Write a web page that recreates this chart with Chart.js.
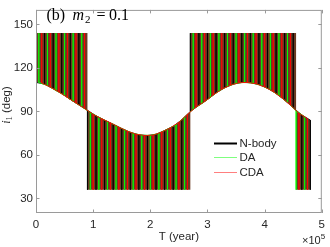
<!DOCTYPE html>
<html>
<head>
<meta charset="utf-8">
<script src="https://cdn.jsdelivr.net/npm/chart.js@4.4.1/dist/chart.umd.min.js"></script>
<style>
  html, body { margin: 0; padding: 0; background: #fff; }
  #wrap { width: 330px; height: 247px; }
</style>
</head>
<body>
<div id="wrap"><canvas id="chart"></canvas></div>
<script>
// time samples (kyr) and the envelope of i1 (deg)
const tKyr = [0, 5, 10, 15, 20, 25, 30, 35, 40, 45, 50, 55, 60, 65, 70, 75, 80, 85, 90, 95,
    100, 105, 110, 115, 120, 125, 130, 135, 140, 145, 150, 155, 160, 165, 170, 175, 180, 185, 190, 195,
    200, 205, 210, 215, 220, 225, 230, 235, 240, 245, 250, 255, 260, 265, 270, 275, 280, 285, 290, 295,
    300, 305, 310, 315, 320, 325, 330, 335, 340, 345, 350, 355, 360, 365, 370, 375, 380, 385, 390, 395,
    400, 405, 410, 415, 420, 425, 430, 435, 440, 445, 450, 455, 460, 465, 470, 475, 480];
const envelope = [110.0, 109.9, 109.6, 108.9, 107.9, 106.8, 105.6, 104.4, 103.4, 102.3,
    101.0, 99.6, 98.3, 97.0, 95.8, 94.5, 93.2, 92.0, 90.8, 89.3,
    88.0, 87.0, 86.0, 85.0, 84.0, 83.1, 82.2, 81.2, 80.2, 79.2,
    78.2, 77.3, 76.4, 75.6, 74.9, 74.3, 73.9, 73.6, 73.4, 73.4,
    73.5, 73.7, 74.2, 74.9, 75.8, 76.9, 77.8, 78.7, 79.7, 80.8,
    82.5, 84.3, 86.1, 88.0, 90.0, 91.6, 93.0, 94.2, 95.4, 96.8,
    98.2, 99.7, 101.3, 102.8, 104.1, 105.3, 106.3, 107.2, 108.1, 108.8,
    109.4, 109.8, 110.0, 110.1, 110.0, 109.8, 109.5, 109.1, 108.5, 107.8,
    106.9, 106.0, 104.9, 103.7, 102.4, 101.0, 99.4, 97.8, 96.2, 94.4,
    92.5, 90.5, 88.8, 87.6, 86.3, 85.0, 84.0];
// where the flips saturate: from each start time on, spikes reach this level
const flipKyr = [0, 90, 270, 455];
const flipLevel = [144, 36, 144, 36];

const seriesNames = ['N-body', 'DA', 'CDA'];
const xTicks = [0, 1, 2, 3, 4, 5];
const yTicks = [30, 60, 90, 120, 150];

const SANS = '"Liberation Sans", Arial, sans-serif';
const SERIF = '"Liberation Serif", "Times New Roman", serif';
const TEXT = '#262626';
const AXIS = '#9a9a9a';
const BAND = '#6a3a22';

function levelAt(t) {
    let lv = flipLevel[0];
    flipKyr.forEach((f, i) => { if (t >= f) lv = flipLevel[i]; });
    return lv;
}

// every third envelope sample belongs to one series: a vertical flip up to
// the saturation level and back, then along the envelope to its next sample
function spikes(phase) {
    const pts = [];
    tKyr.forEach((t, k) => {
        if (k % 3 !== phase) return;
        pts.push({ x: t * 1000, y: envelope[k] });
        pts.push({ x: t * 1000, y: levelAt(t) });
        pts.push({ x: t * 1000, y: envelope[k] });
    });
    return pts;
}

function lineSet(label, data, color, width, order) {
    return {
        label,
        data,
        borderColor: color,
        borderWidth: width,
        pointRadius: 0,
        tension: 0,
        fill: false,
        order,
    };
}

function drawText(ctx, parts, x, y) {
    parts.forEach(p => {
        ctx.font = p.font;
        ctx.fillText(p.text, p.x ?? x, y + (p.dy || 0));
        x += ctx.measureText(p.text).width;
    });
}

function textWidth(ctx, parts) {
    return parts.reduce((w, p) => { ctx.font = p.font; return w + ctx.measureText(p.text).width; }, 0);
}

// the dense flipping fills the space between the envelope and the saturation level
const band = {
    id: 'band',
    beforeDatasetsDraw(chart) {
        const { ctx, chartArea: a, scales: { x, y } } = chart;
        ctx.save();
        ctx.beginPath();
        ctx.rect(a.left, a.top, a.right - a.left, a.bottom - a.top);
        ctx.clip();
        ctx.fillStyle = BAND;
        flipKyr.forEach((start, i) => {
            const end = i + 1 < flipKyr.length ? flipKyr[i + 1] : tKyr[tKyr.length - 1];
            ctx.beginPath();
            ctx.moveTo(x.getPixelForValue(start * 1000), y.getPixelForValue(flipLevel[i]));
            tKyr.forEach((t, k) => {
                if (t >= start && t <= end) ctx.lineTo(x.getPixelForValue(t * 1000), y.getPixelForValue(envelope[k]));
            });
            ctx.lineTo(x.getPixelForValue(end * 1000), y.getPixelForValue(flipLevel[i]));
            ctx.closePath();
            ctx.fill();
        });
        ctx.restore();
    },
};

const frame = {
    id: 'frame',
    afterDraw(chart) {
        const { ctx, chartArea: a, scales } = chart;
        ctx.save();
        ctx.strokeStyle = AXIS;
        ctx.lineWidth = 1;
        ctx.strokeRect(a.left + 0.5, a.top + 0.5, a.right - a.left - 1, a.bottom - a.top - 1);
        ctx.beginPath();
        xTicks.forEach(v => {
            const x = Math.round(scales.x.getPixelForValue(v * 1e5)) + 0.5;
            ctx.moveTo(x, a.bottom); ctx.lineTo(x, a.bottom - 3.5);
            ctx.moveTo(x, a.top); ctx.lineTo(x, a.top + 3.5);
        });
        yTicks.forEach(v => {
            const y = Math.round(scales.y.getPixelForValue(v)) + 0.5;
            ctx.moveTo(a.left, y); ctx.lineTo(a.left + 3.5, y);
            ctx.moveTo(a.right, y); ctx.lineTo(a.right - 3.5, y);
        });
        ctx.stroke();

        // panel title, spaced like the LaTeX original
        ctx.fillStyle = '#000';
        ctx.textBaseline = 'alphabetic';
        ctx.textAlign = 'left';
        drawText(ctx, [
            { text: '(b)', font: `16px ${SERIF}`, x: 46.5 },
            { text: 'm', font: `italic 16px ${SERIF}`, x: 72.5 },
            { text: '2', font: `11px ${SERIF}`, dy: 3, x: 85 },
            { text: '=', font: `16px ${SERIF}`, x: 96.5 },
            { text: '0.1', font: `16px ${SERIF}`, x: 109 },
        ], 0, 19.5);

        // y label
        ctx.fillStyle = TEXT;
        ctx.save();
        ctx.translate(9.5, 105);
        ctx.rotate(-Math.PI / 2);
        const yl = [
            { text: 'i', font: `italic 12px ${SERIF}` },
            { text: '1', font: `8.5px ${SERIF}`, dy: 2.5 },
            { text: ' (deg)', font: `11.5px ${SANS}` },
        ];
        drawText(ctx, yl, -textWidth(ctx, yl) / 2, 0);
        ctx.restore();

        // x label and exponent
        ctx.font = `11.5px ${SANS}`;
        ctx.textAlign = 'center';
        ctx.fillText('T (year)', (a.left + a.right) / 2, 240);
        ctx.textAlign = 'left';
        drawText(ctx, [
            { text: '\u00d710', font: `11px ${SANS}` },
            { text: '5', font: `8px ${SANS}`, dy: -5 },
        ], 302, 244);

        // legend
        chart.data.datasets.forEach((ds, i) => {
            const y = Math.round(142.5 + i * 14.5) + 0.5;
            ctx.strokeStyle = ds.borderColor;
            ctx.lineWidth = i === 0 ? 2 : 1;
            ctx.globalAlpha = i === 0 ? 1 : 0.5;
            ctx.beginPath();
            ctx.moveTo(214, y);
            ctx.lineTo(237, y);
            ctx.stroke();
            ctx.globalAlpha = 1;
            ctx.fillStyle = TEXT;
            ctx.font = `11.5px ${SANS}`;
            ctx.textBaseline = 'middle';
            ctx.fillText(ds.label, 239.5, y);
        });
        ctx.restore();
    },
};

new Chart(document.getElementById('chart'), {
    type: 'line',
    data: {
        datasets: [
            lineSet(seriesNames[0], spikes(0), '#000000', 0.9, 3),
            lineSet(seriesNames[1], spikes(1), '#00ff00', 0.9, 2),
            lineSet(seriesNames[2], spikes(2), '#ff0000', 0.9, 1),
        ],
    },
    options: {
        responsive: true,
        maintainAspectRatio: false,
        animation: false,
        layout: { padding: { top: 1, right: 3, left: 0, bottom: 0 } },
        plugins: { legend: { display: false }, tooltip: { enabled: false } },
        scales: {
            x: {
                type: 'linear',
                min: 0,
                max: 500000,
                grid: { display: false, drawTicks: false },
                border: { display: false },
                afterBuildTicks(scale) { scale.ticks = xTicks.map(v => ({ value: v * 1e5 })); },
                afterFit(scale) { scale.height = 34; },
                ticks: {
                    padding: 5,
                    maxRotation: 0,
                    color: TEXT,
                    font: { family: SANS, size: 11.5 },
                    callback: v => String(v / 1e5),
                },
            },
            y: {
                min: 20,
                max: 160,
                grid: { display: false, drawTicks: false },
                border: { display: false },
                afterBuildTicks(scale) { scale.ticks = yTicks.map(v => ({ value: v })); },
                afterFit(scale) { scale.width = 36; },
                ticks: {
                    padding: 3,
                    color: TEXT,
                    font: { family: SANS, size: 11.5 },
                },
            },
        },
    },
    plugins: [band, frame],
});
</script>
</body>
</html>
